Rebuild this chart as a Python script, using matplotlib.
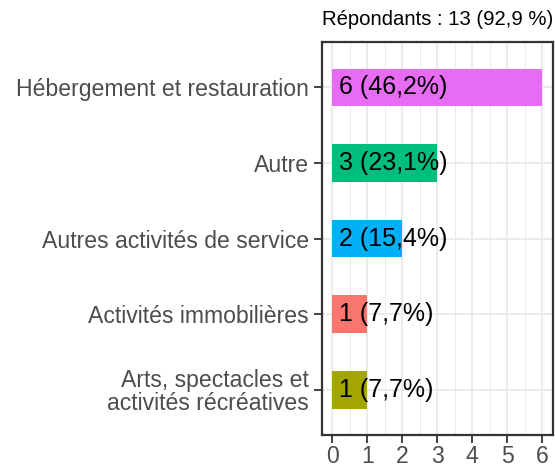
import matplotlib.pyplot as plt
import numpy as np
from matplotlib.ticker import MultipleLocator

plt.rcParams['font.family'] = ['Liberation Sans', 'DejaVu Sans']

# data (bottom to top)
categories = ["Arts, spectacles et\nactivités récréatives", "Activités immobilières",
              "Autres activités de service", "Autre", "Hébergement et restauration"]
counts = [1, 1, 2, 3, 6]
labels = ["1 (7,7%)", "1 (7,7%)", "2 (15,4%)", "3 (23,1%)", "6 (46,2%)"]
colors = ["#A3A500", "#F8766D", "#00B0F6", "#00BF7D", "#E76BF3"]
title = "Répondants : 13 (92,9 %)"

fig = plt.figure(figsize=(5.55, 4.7), dpi=100)
ax = fig.add_axes([0.580, 0.0745, 0.416, 0.836])

y = np.arange(1, len(categories) + 1)
ax.barh(y, counts, height=0.5, color=colors, zorder=2)
for yi, lab in zip(y, labels):
    ax.annotate(lab, (0, yi), xytext=(7, 0), textcoords='offset pixels',
                ha='left', va='center', fontsize=18, color='black', zorder=3)

ax.set_xlim(-0.3, 6.3)
ax.set_ylim(0.4, 5.6)
ax.set_yticks(y)
ax.set_yticklabels(categories)
ax.set_xticks(range(7))
ax.xaxis.set_minor_locator(MultipleLocator(0.5))
ax.tick_params(axis='x', which='minor', length=0)
ax.tick_params(axis='both', which='major', labelsize=16.6, colors='#333333',
               labelcolor='#4D4D4D', length=6, width=1.3)
ax.tick_params(axis='x', which='major', pad=1.5)
for lbl in ax.get_yticklabels():
    lbl.set_multialignment('right')
    lbl.set_linespacing(1.0)

ax.grid(True, which='major', color='#EBEBEB', linewidth=1.4, zorder=0)
ax.grid(True, which='minor', axis='x', color='#EBEBEB', linewidth=0.7, zorder=0)
ax.set_axisbelow(True)
for s in ax.spines.values():
    s.set_color('#333333')
    s.set_linewidth(1.6)

ax.set_title(title, fontsize=14.6, loc='right', pad=12)

fig.savefig("out.png", dpi=100)
